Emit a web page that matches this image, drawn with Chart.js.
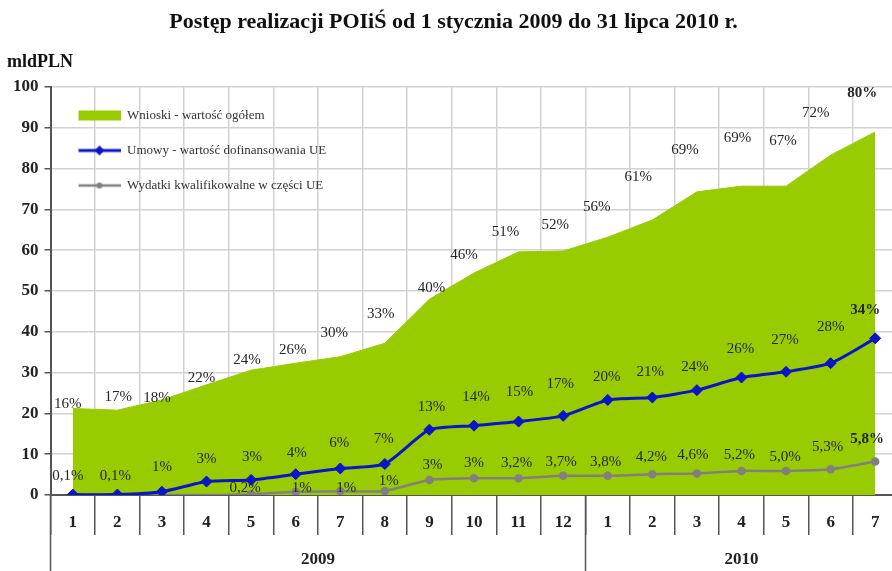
<!DOCTYPE html>
<html>
<head>
<meta charset="utf-8">
<script src="https://cdn.jsdelivr.net/npm/chart.js@4.4.0/dist/chart.umd.min.js"></script>
<style>
html,body{margin:0;padding:0;background:#fff;overflow:hidden}
#wrap{width:904px;height:571px}
</style>
</head>
<body>
<div id="wrap"><canvas id="chart" width="904" height="571"></canvas></div>
<script>
const months = ["1","2","3","4","5","6","7","8","9","10","11","12","1","2","3","4","5","6","7"]
const years = ["2009","2010"]
const monthsPerYear = [12,7]

// mld PLN
const wnioski = [21.2,20.8,23.3,27.0,30.6,32.3,33.9,37.2,48.0,54.4,59.6,59.8,63.2,67.4,74.3,75.7,75.7,83.3,89.0]
const umowy = [0.1,0.1,0.8,3.3,3.7,5.1,6.5,7.6,16.0,17.0,18.0,19.4,23.3,23.9,25.7,28.8,30.2,32.3,38.4]
const wydatki = [0,0,0,0,0.2,0.8,0.9,1.0,3.7,4.1,4.1,4.7,4.7,5.1,5.3,5.9,5.9,6.3,8.2]

const wnioskiPct = ["16%","17%","18%","22%","24%","26%","30%","33%","40%","46%","51%","52%","56%","61%","69%","69%","67%","72%","80%"]
const umowyPct = ["0,1%","0,1%","1%","3%","3%","4%","6%","7%","13%","14%","15%","17%","20%","21%","24%","26%","27%","28%","34%"]
const wydatkiPct = ["","","","","0,2%","1%","1%","1%","3%","3%","3,2%","3,7%","3,8%","4,2%","4,6%","5,2%","5,0%","5,3%","5,8%"]

/* label nudges in px (style only) */
const wnioskiDx = [-5,1,-5,-5,-4,-3,-6,-4,2,-10,-13,-8,-11,-14,-12,-4,-3,-15,-13]
const wnioskiDy = [-4,-13,-2,-7,-10,-13,-24,-29,-11,-18,-20,-26,-30,-43,-42,-48,-45,-42,-39]
const umowyDx = [-5,-2,0,0,1,1,-1,-1,2,2,1,-3,-1,-2,-2,-1,-1,0,-10]
const umowyDy = [-19,-19,-25,-22,-23,-21,-25,-25,-23,-29,-29,-32,-23,-25,-23,-28,-32,-36,-28]
const wydatkiDx = [0,0,0,0,-6,6,6,4,3,0,-2,-2,-2,-1,-4,-2,-1,-3,-8]
const wydatkiDy = [0,0,0,0,-6,-4,-3,-10,-15,-15,-15,-14,-14,-17,-18,-16,-14,-22,-22]

const GREEN = "#99cc00"
const BLUE = "#0a14c8"
const GRAY = "#808080"
const AXIS = "#555"
const SERIF = "'Liberation Serif', 'Times New Roman', serif"

/* year axis: boundaries and centres from month counts */
const yearBounds = [-0.5]
const yearCentres = []
monthsPerYear.forEach(n=>{
const start = yearBounds[yearBounds.length-1]
yearCentres.push(start + n/2)
yearBounds.push(start + n)
})

const labelSets = [
{text:wnioskiPct, dx:wnioskiDx, dy:wnioskiDy},
{text:umowyPct, dx:umowyDx, dy:umowyDy},
{text:wydatkiPct, dx:wydatkiDx, dy:wydatkiDy}
]

const pctLabels = {
id:"pctLabels",
afterDatasetsDraw(chart){
const ctx = chart.ctx
ctx.save()
ctx.textAlign = "center"
ctx.textBaseline = "middle"
chart.data.datasets.forEach((ds,di)=>{
const meta = chart.getDatasetMeta(di)
const lab = labelSets[di]
meta.data.forEach((pt,i)=>{
const t = lab.text[i]
if(!t) return
const last = i === lab.text.length-1
ctx.font = (last ? "bold " : "") + "15px " + SERIF
ctx.fillStyle = "#262626"
ctx.fillText(t, pt.x + lab.dx[i], pt.y + lab.dy[i])
})
})
ctx.restore()
}
}

/* legend sits inside the plot: move it down to the chart area top */
const legendInside = {
id:"legendInside",
afterLayout(chart){
const l = chart.legend
if(!l) return
const shift = chart.chartArea.top - l.top
l.top += shift
l.bottom += shift
}
}

function legendIcon(kind){
const c = document.createElement("canvas")
c.width = 48
c.height = 14
const g = c.getContext("2d")
if(kind === "area"){
g.fillStyle = GREEN
g.fillRect(6,2,42,10)
}else{
g.strokeStyle = kind === "blue" ? BLUE : GRAY
g.fillStyle = g.strokeStyle
g.lineWidth = kind === "blue" ? 3 : 2.5
g.beginPath()
g.moveTo(6,7)
g.lineTo(48,7)
g.stroke()
g.beginPath()
if(kind === "blue"){
g.moveTo(27,2); g.lineTo(32,7); g.lineTo(27,12); g.lineTo(22,7)
}else{
g.arc(27,7,3,0,Math.PI*2)
}
g.closePath()
g.fill()
}
return c
}

const icons = [legendIcon("area"), legendIcon("blue"), legendIcon("gray")]

/* separator-only axes: empty labels, height cancelled by negative padding */
const emptyTicks = (tl)=>({
padding:-(tl+10)/2,
font:{size:10,lineHeight:1},
autoSkip:false,
maxRotation:0,
callback:()=>""
})

new Chart(document.getElementById("chart"),{
type:"line",
data:{
labels:months,
datasets:[
{
label:"Wnioski - wartość ogółem",
data:wnioski,
fill:"origin",
backgroundColor:GREEN,
borderColor:GREEN,
borderWidth:1,
pointRadius:0,
tension:0,
order:3
},
{
label:"Umowy - wartość dofinansowania UE",
data:umowy,
borderColor:BLUE,
backgroundColor:BLUE,
borderWidth:3,
pointStyle:"rectRot",
pointRadius:5.5,
pointBorderWidth:1,
tension:0.2,
fill:false,
order:1
},
{
label:"Wydatki kwalifikowalne w części UE",
data:wydatki,
borderColor:GRAY,
backgroundColor:GRAY,
borderWidth:2.5,
pointStyle:"circle",
pointRadius:ctx=>ctx.raw === 0 ? 0 : 3,
tension:0.2,
fill:false,
order:2
}
]
},
options:{
responsive:false,
animation:false,
events:[],
layout:{padding:{top:6,left:7,right:4,bottom:2}},
plugins:{
title:{
display:true,
text:"Postęp realizacji POIiŚ od 1 stycznia 2009 do 31 lipca 2010 r.",
color:"#111",
font:{family:SERIF,size:22,weight:"bold"},
padding:{top:3,bottom:15.8}
},
subtitle:{
display:true,
text:"mldPLN",
align:"start",
color:"#111",
font:{family:SERIF,size:18,weight:"bold"},
padding:{top:0,bottom:14.2}
},
legend:{
position:"chartArea",
align:"start",
labels:{
usePointStyle:true,
pointStyleWidth:48,
padding:22,
color:"#333",
font:{family:SERIF,size:13},
generateLabels(chart){
return chart.data.datasets.map((ds,i)=>({
text:ds.label,
pointStyle:icons[i],
fillStyle:ds.backgroundColor,
strokeStyle:ds.borderColor,
fontColor:"#333",
lineWidth:0,
hidden:false,
datasetIndex:i
}))
}
}
},
tooltip:{enabled:false}
},
scales:{
x:{
type:"category",
offset:true,
weight:0,
grid:{offset:true,color:"#d2d2d2",lineWidth:1.5,tickLength:40,tickColor:AXIS,tickWidth:1.5},
border:{color:AXIS,width:2},
ticks:emptyTicks(40)
},
xYearSep:{
type:"linear",
position:"bottom",
weight:1,
min:-0.5,
max:18.5,
afterBuildTicks(scale){
scale.ticks = yearBounds.map(v=>({value:v}))
},
grid:{drawOnChartArea:false,tickLength:76,tickColor:AXIS,tickWidth:1.5},
border:{display:false},
ticks:emptyTicks(76)
},
xMonth:{
type:"category",
position:"bottom",
offset:true,
weight:2,
grid:{display:false,drawTicks:false,drawOnChartArea:false},
border:{display:false},
ticks:{padding:17.8,color:"#222",autoSkip:false,maxRotation:0,font:{family:SERIF,size:17,weight:"bold"}}
},
xYear:{
type:"linear",
position:"bottom",
weight:3,
min:-0.5,
max:18.5,
afterBuildTicks(scale){
scale.ticks = yearCentres.map(v=>({value:v}))
},
grid:{display:false,drawTicks:false,drawOnChartArea:false},
border:{display:false},
ticks:{
padding:0.5,
color:"#222",
autoSkip:false,
maxRotation:0,
font:{family:SERIF,size:17,weight:"bold",lineHeight:1},
callback:v=>{
const k = yearCentres.indexOf(v)
return k >= 0 ? years[k] : ""
}
}
},
y:{
min:0,
max:100,
grid:{color:"#d2d2d2",lineWidth:1.5,tickLength:6,tickColor:AXIS,tickWidth:1.5},
border:{color:AXIS,width:2},
ticks:{stepSize:10,padding:6,color:"#222",font:{family:SERIF,size:17,weight:"bold"}}
}
}
},
plugins:[pctLabels,legendInside]
})
</script>
</body>
</html>
